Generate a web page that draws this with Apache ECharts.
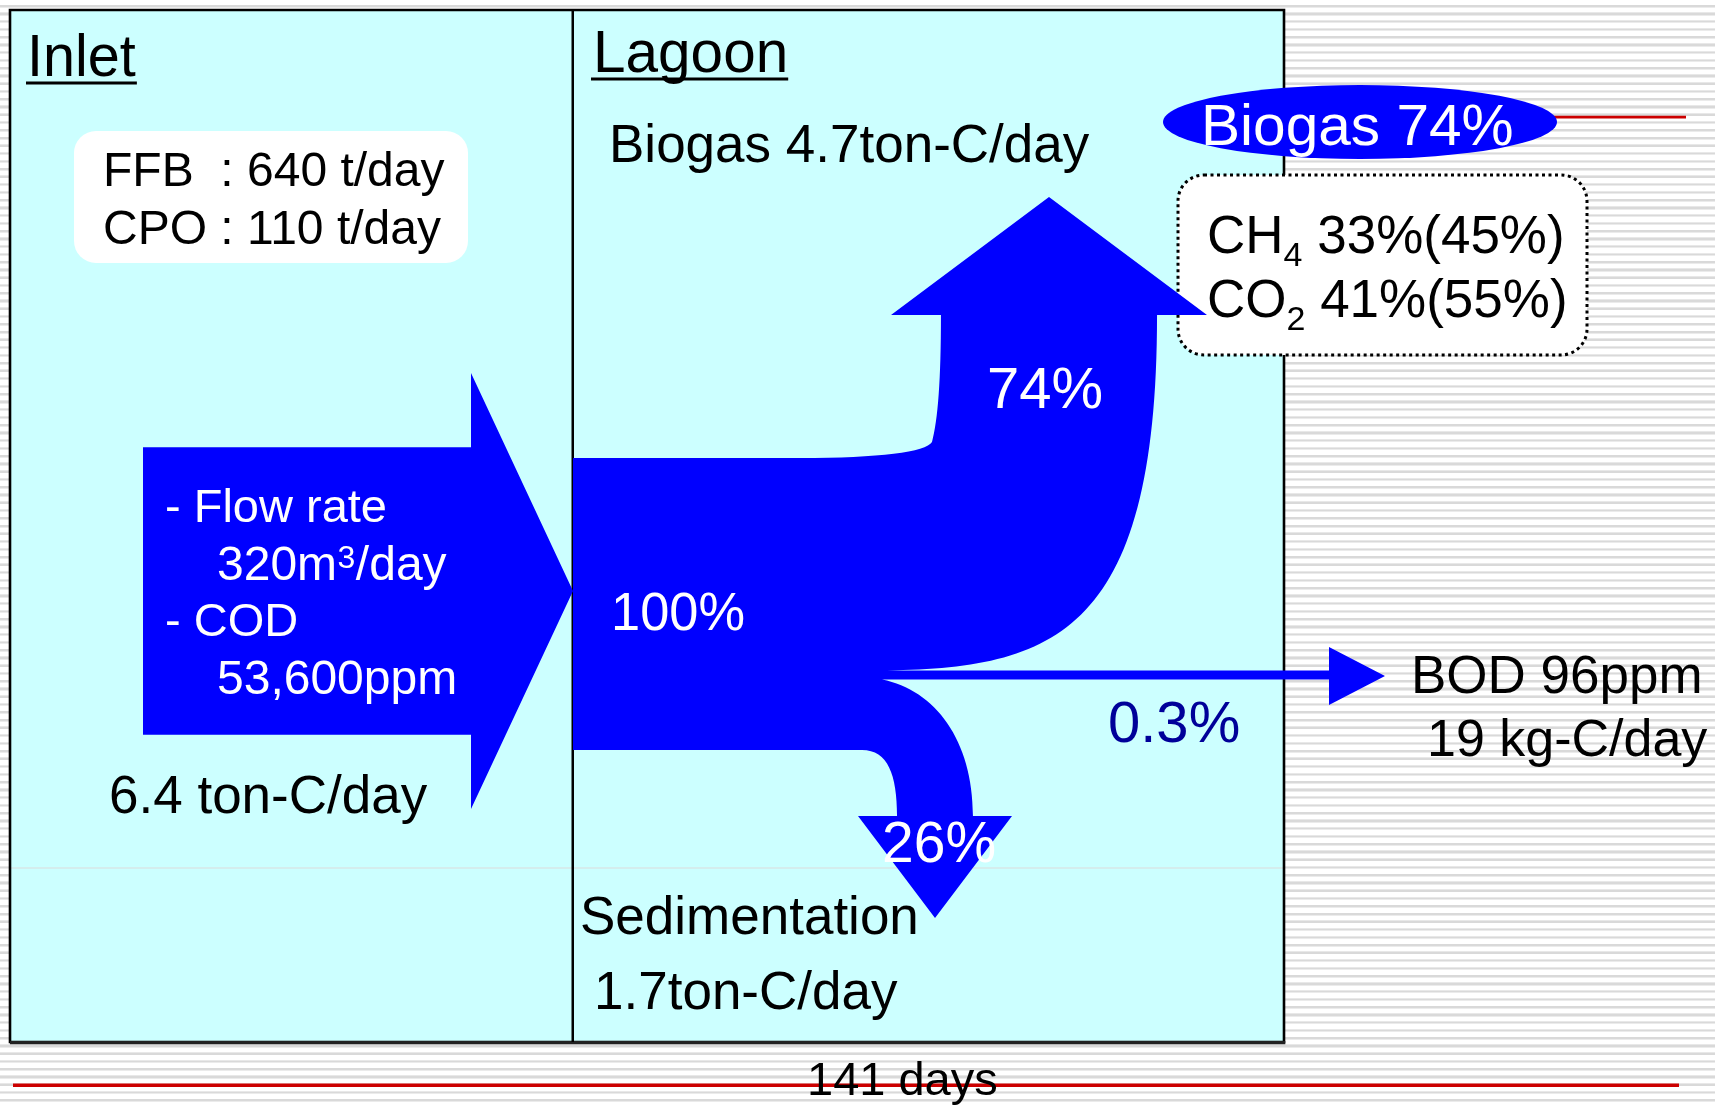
<!DOCTYPE html>
<html>
<head>
<meta charset="utf-8">
<script src="https://cdn.jsdelivr.net/npm/echarts@6/dist/echarts.min.js"></script>
<style>
html, body { margin: 0; padding: 0; }
#chart {
  width: 1715px; height: 1105px;
  background: repeating-linear-gradient(to bottom, #ffffff 0px, #ffffff 4.6px, #e8e8e8 4.6px, #e8e8e8 5.3px, #d9d9d9 5.3px, #d9d9d9 6.9px, #ebebeb 6.9px, #ebebeb 7.76px);
}
</style>
</head>
<body>
<div id="chart"></div>
<script>
// ---------------- data ----------------
const stageTitles = ['Inlet', 'Lagoon'];
const millNames = ['FFB', 'CPO'];
const millTonsPerDay = [640, 110];
const inflowRate = 320;          // m3/day
const inflowCOD = '53,600';      // ppm
const flowNames = ['Inlet', 'Biogas', 'Effluent', 'Sedimentation'];
const flowShares = [100, 74, 0.3, 26];                 // % of inlet carbon
const flowShareLabels = ['100%', '74%', '0.3%', '26%'];
const carbonLoads = ['6.4 ton-C/day', '4.7ton-C/day', '19 kg-C/day', '1.7ton-C/day'];
const gasFormula = ['CH', 'CO'];
const gasSubscript = ['4', '2'];
const gasShareCarbon = [33, 41];   // % of inlet carbon
const gasShareVolume = [45, 55];   // % of biogas
const effluentBOD = 96;            // ppm
const retentionDays = 141;

// ---------------- helpers ----------------
const FONT = '"Liberation Sans", Arial, Helvetica, sans-serif';
const BLUE = '#0000ff', CYAN = '#ccffff', NAVY = '#000099', RED = '#cc0000';
const mctx = document.createElement('canvas').getContext('2d');
function textWidth(str, fs) { mctx.font = fs + 'px ' + FONT; return mctx.measureText(str).width; }

function renderItem(params, api) {
  const P = (x, y) => api.coord([x, y]);
  const out = [];
  function rect(x0, y0, x1, y1, style, r) {
    const a = P(x0, y0), b = P(x1, y1);
    out.push({ type: 'rect', shape: { x: a[0], y: a[1], width: b[0] - a[0], height: b[1] - a[1], r: r || 0 }, style: style });
  }
  function poly(pts, style) {
    out.push({ type: 'polygon', shape: { points: pts.map(p => P(p[0], p[1])) }, style: style });
  }
  function path(segs, style) {
    let d = '';
    segs.forEach(s => {
      d += s[0];
      for (let i = 1; i < s.length; i += 2) {
        const q = P(s[i], s[i + 1]);
        d += ' ' + q[0].toFixed(2) + ' ' + q[1].toFixed(2);
      }
      d += ' ';
    });
    out.push({ type: 'path', shape: { pathData: d }, style: style });
  }
  function text(str, x, baseline, fs, fill, sx) {
    sx = sx || 1;
    const p = P(x, baseline - 0.3 * fs);
    out.push({
      type: 'text', x: p[0], y: p[1], scaleX: sx,
      style: { text: str, fill: fill || '#000', font: fs + 'px ' + FONT,
               align: 'left', verticalAlign: 'middle', textAlign: 'left', textVerticalAlign: 'middle' }
    });
    return x + textWidth(str, fs) * sx;
  }

  // panels
  rect(10, 10, 573, 1042, { fill: CYAN });
  rect(573, 10, 1284, 1042, { fill: CYAN });
  rect(10, 867.5, 1284, 868.6, { fill: '#dcdcdc' });
  // red guide lines
  rect(13, 1083.5, 1679, 1087, { fill: RED });
  rect(1540, 115.8, 1686, 118.4, { fill: RED });
  // frame
  rect(10, 10, 1284, 1042, { fill: 'none', stroke: '#000', lineWidth: 2.6 });
  rect(10, 1041, 1285.3, 1044.3, { fill: '#222' });
  rect(571.5, 10, 574, 1042, { fill: '#000' });

  // boxes
  rect(74, 131, 468, 263, { fill: '#fff' }, 22);
  rect(1178, 175, 1587, 355, { fill: '#fff', stroke: '#000', lineWidth: 3, lineDash: [3, 3.5] }, 26);
  // biogas ellipse
  const ec = P(1360, 122);
  out.push({ type: 'circle', x: ec[0], y: ec[1], scaleY: 37 / 197, shape: { cx: 0, cy: 0, r: 197 }, style: { fill: BLUE } });

  // flow geometry derived from shares
  const bandTop = 458;
  const unit = 292 / flowShares[0];
  const bandBot = bandTop + flowShares[0] * unit;
  // inlet arrow
  const inW = flowShares[0] * unit * 0.985, inMid = 591;
  poly([[143, inMid - inW / 2], [471, inMid - inW / 2], [471, inMid - 218], [573, inMid],
        [471, inMid + 218], [471, inMid + inW / 2], [143, inMid + inW / 2]], { fill: BLUE });

  const bioW = flowShares[1] * unit, shaftCx = 1049;
  const shaftL = shaftCx - bioW / 2, shaftR = shaftCx + bioW / 2;
  const effW = Math.max(flowShares[2] * unit, 9), effY = 675;
  const effTop = effY - effW / 2, effBot = effY + effW / 2;
  const sedW = flowShares[3] * unit, sedCx = 935;
  const sedL = sedCx - sedW / 2, sedR = sedCx + sedW / 2;

  path([
    ['M', 573, bandTop],
    ['L', 800, bandTop],
    ['C', 880, bandTop, 926, 452, 932, 442],
    ['C', 938, 420, shaftL, 380, shaftL, 315],
    ['L', shaftCx - 158, 315],
    ['L', shaftCx, 197],
    ['L', shaftCx + 158, 315],
    ['L', shaftR, 315],
    ['C', shaftR, 640, 1050, effTop, 871, effTop],
    ['L', 1329, effTop],
    ['L', 1329, effY - 28],
    ['L', 1385, effY + 1],
    ['L', 1329, effY + 30],
    ['L', 1329, effBot],
    ['L', 882, effBot],
    ['C', 935, 690, sedR, 740, sedR, 816],
    ['L', sedCx + 77, 816],
    ['L', sedCx, 918],
    ['L', sedCx - 77, 816],
    ['L', sedL, 816],
    ['C', sedL, 775, 888, bandBot, 862, bandBot],
    ['L', 573, bandBot],
    ['Z']
  ], { fill: BLUE });

  // ---------- texts ----------
  let e = text(stageTitles[0], 27, 77, 60, '#000', 0.96);
  rect(26, 81.5, e + 1, 84.5, { fill: '#000' });
  e = text(stageTitles[1], 593, 73, 60, '#000', 0.975);
  rect(591, 77.5, e, 80.5, { fill: '#000' });

  const colX = 103 + textWidth('CPO ', 48);
  millNames.forEach((n, i) => {
    const b = 187 + i * 58;
    text(n, 103, b, 48);
    text(': ' + millTonsPerDay[i] + ' t/day', colX, b, 48);
  });

  text('- Flow rate', 165, 523, 47, '#fff');
  e = text(inflowRate + 'm', 217, 581, 48, '#fff');
  e = text('3', e + 0.5, 569, 32, '#fff');
  text('/day', e + 0.5, 581, 48, '#fff');
  text('- COD', 165, 637, 47, '#fff');
  text(inflowCOD + 'ppm', 217, 695, 48, '#fff');
  text(carbonLoads[0], 109, 814, 53);

  text('Biogas ' + carbonLoads[1], 609, 163, 53);
  text(flowShareLabels[0], 611, 631, 54, '#fff', 0.97);
  text(flowShareLabels[1], 987, 409, 58, '#fff');
  text(flowShareLabels[3], 882, 863, 57, '#fff');
  text(flowShareLabels[2], 1108, 743, 58, NAVY);

  text(flowNames[3], 580, 935, 53);
  text(carbonLoads[3], 594, 1010, 53);
  text('BOD ' + effluentBOD + 'ppm', 1411, 694, 53);
  text(carbonLoads[2], 1427, 757, 52);
  text(retentionDays + ' days', 807, 1096, 47);

  text('Biogas ' + flowShareLabels[1], 1201, 146, 58, '#fff', 1.01);
  gasFormula.forEach((g, i) => {
    const b = 254 + i * 64;
    let x = text(g, 1207, b, 53);
    x = text(gasSubscript[i], x, b + 13, 34);
    text(' ' + gasShareCarbon[i] + '%(' + gasShareVolume[i] + '%)', x, b, 53);
  });

  return { type: 'group', children: out };
}

const chart = echarts.init(document.getElementById('chart'), null, { renderer: 'canvas' });
chart.setOption({
  animation: false,
  backgroundColor: 'transparent',
  grid: { left: 0, right: 0, top: 0, bottom: 0, containLabel: false, outerBoundsMode: 'none' },
  xAxis: { type: 'value', min: 0, max: 1715, show: false, axisLabel: { show: false }, splitLine: { show: false } },
  yAxis: { type: 'value', min: 0, max: 1105, inverse: true, show: false, axisLabel: { show: false }, splitLine: { show: false } },
  series: [{
    type: 'custom',
    coordinateSystem: 'cartesian2d',
    clip: false,
    silent: true,
    renderItem: renderItem,
    data: [[0, 0]]
  }]
});
</script>
</body>
</html>
